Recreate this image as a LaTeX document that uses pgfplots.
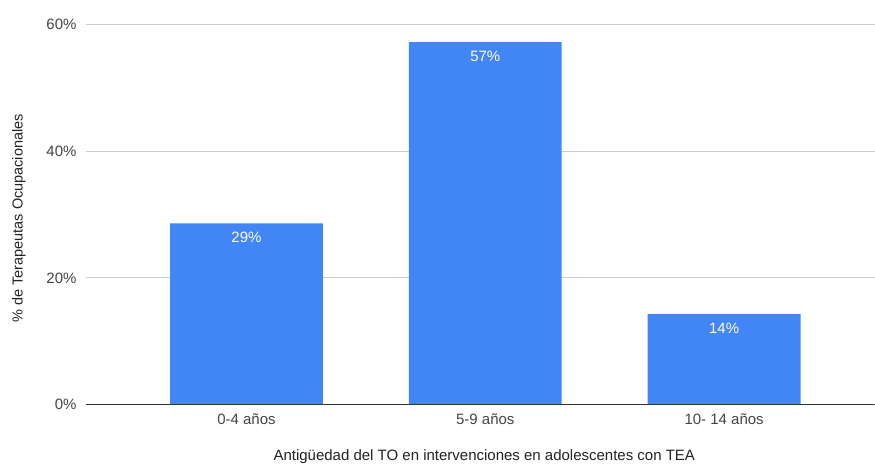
\documentclass[border=0pt]{standalone}
\usepackage{pgfplots}
\pgfplotsset{compat=1.18}
\usepackage{fontspec}
\setmainfont{Liberation Sans}
\definecolor{barblue}{HTML}{4285F4}
\definecolor{gridgray}{HTML}{CCCCCC}
\definecolor{ticktext}{HTML}{444444}
\definecolor{titletext}{HTML}{222222}
\definecolor{zeroline}{HTML}{333333}
\begin{document}
\begin{tikzpicture}[x=1pt,y=1pt]
\path (-86,-64) rectangle (789,405);
\begin{axis}[
  at={(0,0)}, anchor=south west,
  scale only axis, width=789pt, height=381pt,
  ybar, bar width=0.64,
  xmin=-0.672, xmax=2.63,
  ymin=0, ymax=60,
  xtick={0,1,2}, xticklabels={0-4 años,5-9 años,10- 14 años},
  ytick={0,20,40,60},
  yticklabel={\pgfmathprintnumber{\tick}\%},
  /pgf/number format/assume math mode=true,
  major tick length=0pt,
  ymajorgrids, grid style={gridgray, line width=0.8pt},
  axis line style={draw=none},
  tick label style={font=\fontsize{15}{17}\selectfont, text=ticktext},
  xticklabel style={yshift=-5pt},
  yticklabel style={xshift=-6pt},
  label style={font=\fontsize{15}{17}\selectfont, text=titletext},
  xlabel={Antigüedad del TO en intervenciones en adolescentes con TEA},
  ylabel={\% de Terapeutas Ocupacionales},
  xlabel style={at={(rel axis cs:0.5,0)}, anchor=center, yshift=-52pt, xshift=4pt},
  ylabel style={at={(rel axis cs:0,0.5)}, anchor=center, yshift=67pt, xshift=-4pt, font=\fontsize{14.5}{17}\selectfont},
  nodes near coords={\pgfmathprintnumber[fixed,precision=0]{\pgfplotspointmeta}\%},
  every node near coord/.append style={anchor=north, yshift=-5pt, text=white, font=\fontsize{15}{17}\selectfont},
]
\addplot[fill=barblue, draw=none] coordinates {(0,28.57) (1,57.14) (2,14.29)};
\draw[zeroline, line width=1pt] (rel axis cs:0,0) -- (rel axis cs:1,0);
\end{axis}
\end{tikzpicture}
\end{document}
